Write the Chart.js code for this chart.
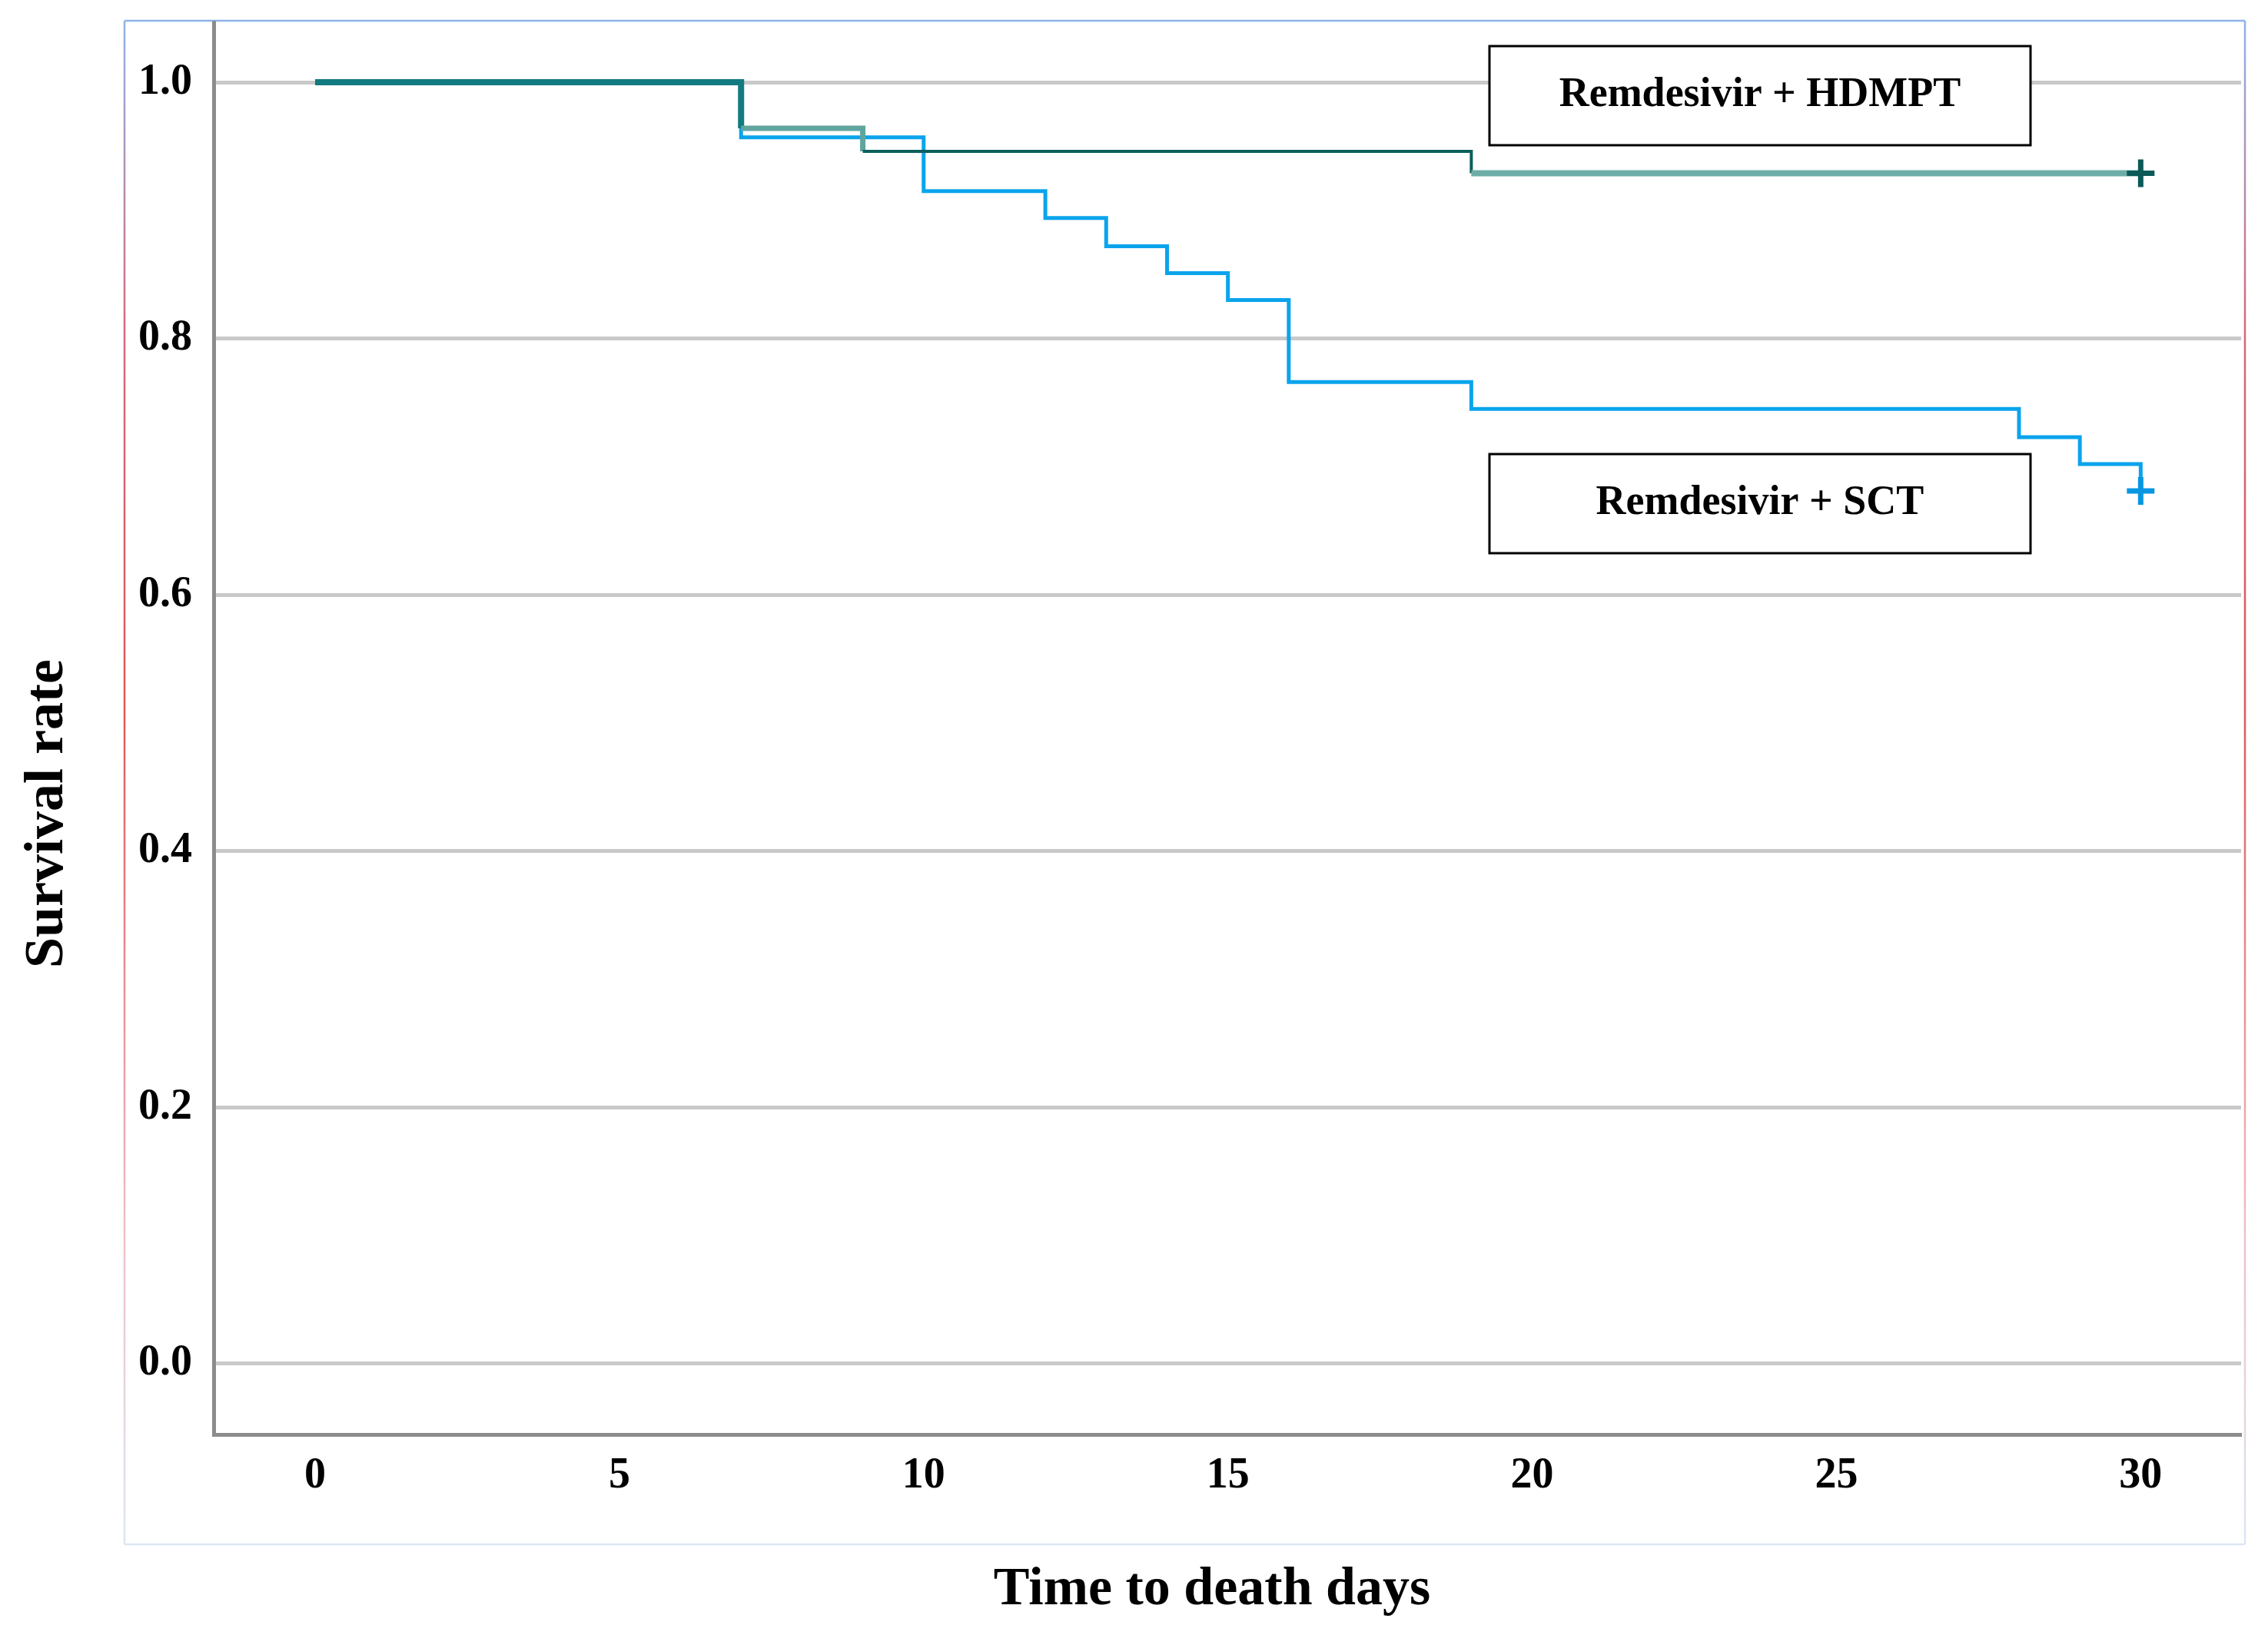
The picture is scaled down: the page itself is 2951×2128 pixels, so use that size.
<!DOCTYPE html>
<html>
<head>
<meta charset="utf-8">
<script src="https://cdn.jsdelivr.net/npm/chart.js@4.4.0/dist/chart.umd.min.js"></script>
<style>
html,body{margin:0;padding:0;background:#ffffff;}
canvas{display:block;}
</style>
</head>
<body>
<canvas id="c" width="2951" height="2128"></canvas>
<script>
// ---- data ----
const seriesNames = ['Remdesivir + HDMPT', 'Remdesivir + SCT'];
const hdmptDays = [0, 7, 9, 19, 30];
const hdmptSurvival = [1.0, 0.964, 0.946, 0.929, 0.929];
const sctDays = [0, 7, 10, 12, 13, 14, 15, 16, 19, 28, 29, 30];
const sctSurvival = [1.0, 0.957, 0.915, 0.894, 0.872, 0.851, 0.830, 0.766, 0.745, 0.723, 0.702, 0.681];
const hdmptCensorDays = [30];
const hdmptCensorSurvival = [0.929];
const sctCensorDays = [30];
const sctCensorSurvival = [0.681];
const xTickValues = [0, 5, 10, 15, 20, 25, 30];
const yTickValues = [0.0, 0.2, 0.4, 0.6, 0.8, 1.0];
const xAxisTitle = 'Time to death days';
const yAxisTitle = 'Survival rate';

// ---- styles ----
const hdmptSegColors = ['#137a80', '#5fa59e', '#0b5f5b', '#6dada8'];
const hdmptSegWidths = [8, 7, 4, 8];
const FONT = '"Liberation Serif", "Times New Roman", serif';

const pts = (xs, ys) => xs.map((x, i) => ({x: x, y: ys[i]}));

const decorPlugin = {
  id: 'decor',
  beforeDraw(chart) {
    const ctx = chart.ctx;
    ctx.save();
    ctx.fillStyle = '#ffffff';
    ctx.fillRect(0, 0, chart.width, chart.height);
    // outer frame
    const L = 162, T = 27, R = 2921, B = 2010;
    ctx.lineWidth = 2.5;
    ctx.strokeStyle = '#8fb3ea';
    ctx.beginPath(); ctx.moveTo(L, T); ctx.lineTo(R, T); ctx.stroke();
    ctx.strokeStyle = '#dce6f4';
    ctx.beginPath(); ctx.moveTo(L, B); ctx.lineTo(R, B); ctx.stroke();
    const g = ctx.createLinearGradient(0, T, 0, B);
    g.addColorStop(0, '#8fb3ea');
    g.addColorStop(0.2, '#d46a7c');
    g.addColorStop(0.45, '#e05656');
    g.addColorStop(0.8, '#f0c0c8');
    g.addColorStop(1, '#dce6f4');
    ctx.strokeStyle = g;
    ctx.beginPath(); ctx.moveTo(L, T); ctx.lineTo(L, B); ctx.stroke();
    ctx.beginPath(); ctx.moveTo(R, T); ctx.lineTo(R, B); ctx.stroke();
    ctx.restore();
  },
  afterDraw(chart) {
    const ctx = chart.ctx;
    ctx.save();
    // annotation boxes
    const boxes = [
      {text: seriesNames[0], x: 1938, y: 60, w: 704, h: 129},
      {text: seriesNames[1], x: 1938, y: 591, w: 704, h: 129}
    ];
    ctx.font = 'bold 54px ' + FONT;
    ctx.textAlign = 'center';
    ctx.textBaseline = 'middle';
    boxes.forEach(b => {
      ctx.fillStyle = '#ffffff';
      ctx.fillRect(b.x, b.y, b.w, b.h);
      ctx.lineWidth = 3;
      ctx.strokeStyle = '#000000';
      ctx.strokeRect(b.x, b.y, b.w, b.h);
      ctx.fillStyle = '#000000';
      ctx.fillText(b.text, b.x + b.w / 2, b.y + b.h / 2);
    });
    // axis titles
    ctx.font = 'bold 70px ' + FONT;
    ctx.fillText(xAxisTitle, 1577, 2070);
    ctx.translate(62, 1059);
    ctx.rotate(-Math.PI / 2);
    ctx.font = 'bold 72px ' + FONT;
    ctx.fillText(yAxisTitle, 0, 0);
    ctx.restore();
  }
};

const tickFont = {family: FONT, weight: 'bold', size: 56};

new Chart(document.getElementById('c'), {
  type: 'line',
  data: {
    datasets: [
      {
        label: seriesNames[0] + ' censored', type: 'scatter',
        data: pts(hdmptCensorDays, hdmptCensorSurvival),
        pointStyle: 'cross', pointRadius: 18, pointBorderWidth: 7,
        borderColor: '#0b5a58', backgroundColor: '#0b5a58'
      },
      {
        label: seriesNames[1] + ' censored', type: 'scatter',
        data: pts(sctCensorDays, sctCensorSurvival),
        pointStyle: 'cross', pointRadius: 18, pointBorderWidth: 7,
        borderColor: '#0896e2', backgroundColor: '#0896e2'
      },
      {
        label: seriesNames[0],
        data: pts(hdmptDays, hdmptSurvival),
        stepped: 'before', fill: false, pointRadius: 0,
        borderColor: '#0e6e70', borderWidth: 5,
        segment: {
          borderColor: c => hdmptSegColors[c.p0DataIndex],
          borderWidth: c => hdmptSegWidths[c.p0DataIndex]
        }
      },
      {
        label: seriesNames[1],
        data: pts(sctDays, sctSurvival),
        stepped: 'before', fill: false, pointRadius: 0,
        borderColor: '#0aa4ec', borderWidth: 5
      }
    ]
  },
  options: {
    responsive: false,
    devicePixelRatio: 1,
    animation: false,
    layout: {padding: {left: 0, top: 29, right: 35, bottom: 0}},
    plugins: {legend: {display: false}, tooltip: {enabled: false}, title: {display: false}},
    scales: {
      x: {
        type: 'linear', min: -1.667, max: 31.65,
        afterBuildTicks: s => { s.ticks = xTickValues.map(v => ({value: v})); },
        afterFit: s => { s.height = 261; s.paddingLeft = 0; s.paddingRight = 0; },
        grid: {display: false, drawTicks: false},
        border: {display: true, color: '#8c8c8c', width: 5},
        ticks: {padding: 21, color: '#000000', font: tickFont, maxRotation: 0, autoSkip: false, callback: v => String(v)}
      },
      y: {
        type: 'linear', min: -0.0553, max: 1.0468,
        afterBuildTicks: s => { s.ticks = yTickValues.map(v => ({value: v})); },
        afterFit: s => { s.width = 278; s.paddingTop = 0; s.paddingBottom = 0; },
        grid: {color: '#c9c9c9', lineWidth: 5, drawTicks: false},
        border: {display: true, color: '#8c8c8c', width: 5},
        ticks: {padding: 28, color: '#000000', font: tickFont, autoSkip: false, callback: v => Number(v).toFixed(1)}
      }
    }
  },
  plugins: [decorPlugin]
});
</script>
</body>
</html>
